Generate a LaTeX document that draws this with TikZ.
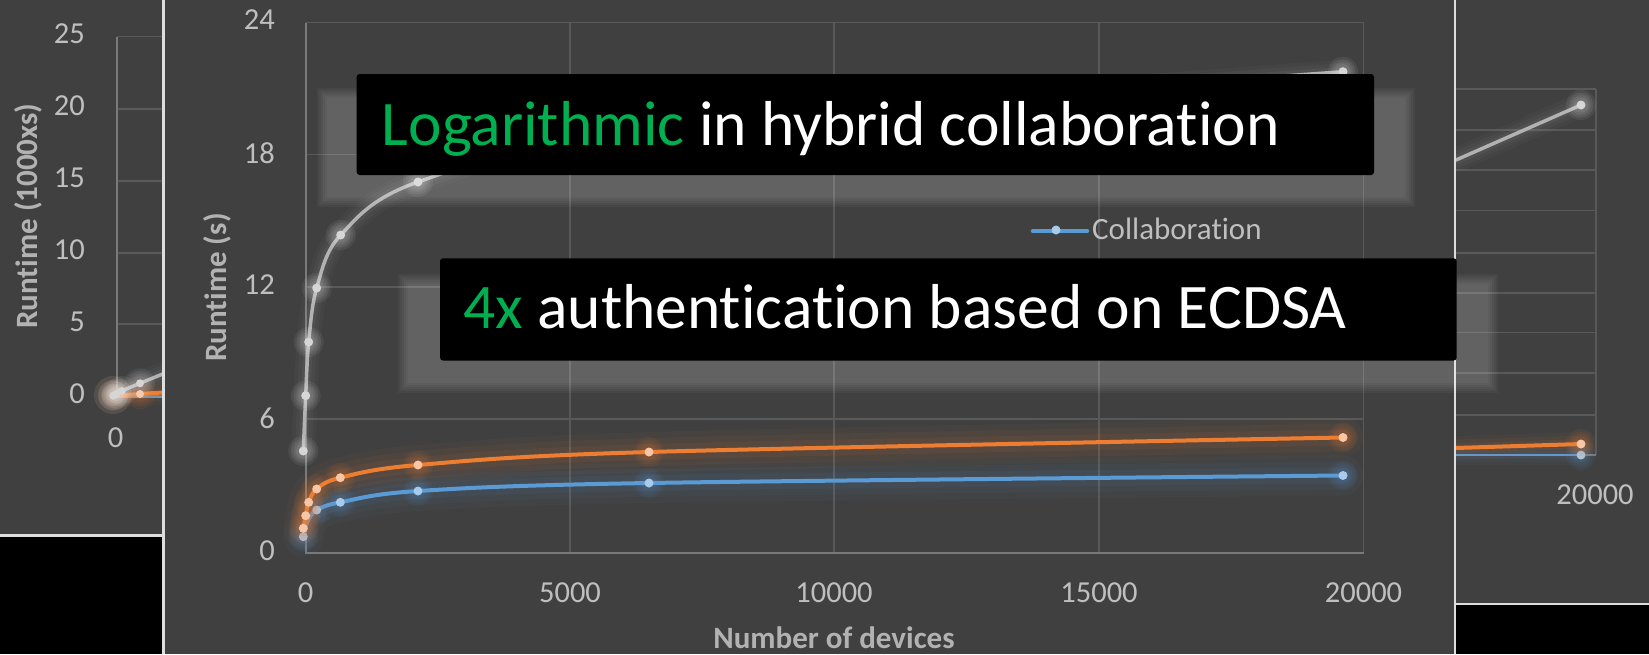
\documentclass[tikz,border=0pt]{standalone}
\usepackage{fontspec}
\setmainfont{Carlito}[Ligatures=NoCommon]
\definecolor{bg}{RGB}{64,64,64}
\definecolor{grid}{RGB}{89,89,89}
\definecolor{axisc}{RGB}{122,122,122}
\definecolor{ticktxt}{RGB}{191,191,191}
\definecolor{titletxt}{RGB}{178,178,178}
\definecolor{panelline}{RGB}{222,222,222}
\definecolor{sorange}{RGB}{237,125,49}
\definecolor{sblue}{RGB}{91,155,213}
\definecolor{sgray}{RGB}{178,178,178}
\definecolor{morange}{RGB}{248,198,165}
\definecolor{mblue}{RGB}{168,203,236}
\definecolor{mgray}{RGB}{214,214,214}
\definecolor{hlgreen}{RGB}{0,176,80}

% a series line with a soft glow around it
\newcommand\glowline[5]{% #1 colour, #2 line width, #3 tension, #4 glow scale, #5 points
  \foreach \w/\o in {40/0.04, 28/0.05, 16/0.07}
    \draw[#1, line width=#4*\w pt, opacity=\o, line cap=round, line join=round]
      plot[smooth, tension=#3] coordinates {#5};
  \draw[#1, line width=#2, line cap=round, line join=round]
    plot[smooth, tension=#3] coordinates {#5};
}
% round data markers with a soft halo; #4 is a list of x/y pairs
\newcommand\glowmarks[4]{% #1 halo colour, #2 fill colour, #3 marker radius, #4 points
  \foreach \px/\py in {#4} {
    \foreach \r in {15,12.5,10,7.5}
      \fill[#1, opacity=0.065] (\px,\py) circle (\r pt);
  }
  \foreach \px/\py in {#4}
    \fill[#2] (\px,\py) circle (#3);
}
% a soft-edged translucent panel
\newcommand\softpanel[4]{% corners x1,y1,x2,y2
  \foreach \d in {-5,-3,-1,1,3,5}
    \fill[white, opacity=0.035] ({#1+\d},{#2+\d}) rectangle ({#3-\d},{#4-\d});
}

\begin{document}
\begin{tikzpicture}[x=1pt, y=-1pt,
  gridline/.style={draw=grid, line width=1.5pt},
  axisline/.style={draw=axisc, line width=2pt},
  ticklbl/.style={text=ticktxt, font=\fontsize{30.5}{36}\selectfont, inner sep=0pt},
  axtitle/.style={text=titletxt, font=\bfseries\fontsize{31}{36}\selectfont, inner sep=0pt},
  panelborder/.style={draw=panelline, line width=2.5pt},
  callout/.style={fill=black, rounded corners=3pt},
  calltext/.style={text=white, font=\fontsize{63.5}{70}\selectfont, inner sep=0pt, anchor=base west},
  legtext/.style={text=ticktxt, font=\fontsize{31}{36}\selectfont, inner sep=0pt, anchor=base west},
]
\useasboundingbox (0,0) rectangle (1649,654);
\fill[bg] (0,0) rectangle (1649,654);

% ---------- left chart (partly hidden) ----------
\begin{scope}
  \clip (0,0) rectangle (162,536);
  \foreach \y in {36.7,109,181,253,324}
    \draw[gridline] (116.7,\y) -- (170,\y);
  \draw[axisline] (116.7,36.7) -- (116.7,396) -- (170,396);
  \foreach \r in {19,15,11,7}
    \fill[morange, opacity=0.12] (113,395) circle (\r pt);
  \draw[sblue, line width=2pt] (113,396.8) -- (170,396.8);
  \glowline{sorange}{4pt}{0.5}{0.6}{(113,396) (140,394) (170,392)}
  \glowmarks{sorange}{morange}{4pt}{140/394}
  \glowline{sgray}{3.5pt}{0.5}{0.6}{(113.3,395.7) (121.7,391) (140,383.3) (170,371)}
  \glowmarks{white}{mgray}{4pt}{113.3/395.7, 116.5/394, 121.7/391, 140/383.3}
\end{scope}
\foreach \v/\y in {25/34,20/106,15/178,10/250,5/322,0/394}
  \node[ticklbl, anchor=east] (ly\v) at (85,\y) {\v};
\node[ticklbl] (lx0) at (115.7,437.5) {0};
\node[axtitle, rotate=90] (lytitle) at (28,216) {Runtime (1000xs)};

% ---------- right chart (partly hidden) ----------
\begin{scope}
  \clip (1456,0) rectangle (1649,604);
  \foreach \y in {89,130,170,210.7,253,293,332.5,373,415}
    \draw[gridline] (1440,\y) -- (1596,\y);
  \draw[gridline] (1596,89) -- (1596,455);
  \draw[axisline] (1440,455) -- (1596,455);
  \glowline{sblue}{2.5pt}{0.5}{0.5}{(1440,455) (1581,455)}
  \glowmarks{sblue}{mblue}{4.5pt}{1581/455}
  \glowline{sorange}{4pt}{0.5}{0.6}{(1440,448.5) (1581,444)}
  \glowmarks{sorange}{morange}{4.5pt}{1581/444}
  \glowline{sgray}{3.5pt}{0.5}{0.6}{(1456,160) (1581,105)}
  \glowmarks{white}{mgray}{4.5pt}{1581/105}
\end{scope}
\node[ticklbl] (rx20000) at (1595,495) {20000};

% ---------- main chart ----------
\foreach \y in {22.7,154.7,287,419}
  \draw[gridline] (305.7,\y) -- (1363.5,\y);
\foreach \x in {570,834,1099,1363.5}
  \draw[gridline] (\x,22.7) -- (\x,552.5);
\draw[axisline] (305.7,22.7) -- (305.7,552.5) -- (1363.5,552.5);

\foreach \v/\y in {24/20,18/153,12/285,6/418,0/551}
  \node[ticklbl, anchor=east] (my\v) at (275,\y) {\v};
\foreach \v/\x in {0/305.7,5000/570,10000/834,15000/1099,20000/1363.5}
  \node[ticklbl] (mx\v) at (\x,593) {\v};
\node[axtitle, rotate=90] (mytitle) at (217,287.5) {Runtime (s)};
\node[axtitle, anchor=base] (mxtitle) at (834,648) {Number of devices};

% series: blue, orange, gray
\glowline{sblue}{4pt}{0.55}{1}{(303.3,536.7) (305.7,527) (308.7,519) (316.7,510) (340.3,502.3) (418,491) (649,483) (1343,475.5)}
\glowmarks{sblue}{mblue}{4.5pt}{303.3/536.7, 316.7/510, 340.3/502.3, 418/491, 649/483, 1343/475.5}
\glowline{sorange}{4pt}{0.55}{1}{(303.3,528.3) (305.7,515.7) (308.7,502.3) (316.7,489) (340.3,477.7) (418,465) (649,452) (1343,437.5)}
\glowmarks{sorange}{morange}{4.5pt}{303.3/528.3, 305.7/515.7, 308.7/502.3, 316.7/489, 340.3/477.7, 418/465, 649/452, 1343/437.5}
\glowline{sgray}{3.5pt}{0.55}{0.6}{(303.3,451) (305.7,395.7) (308.7,342) (316.7,288) (340.7,235) (418,182) (650,128) (1343,71.7)}
\glowmarks{white}{mgray}{4.5pt}{303.3/451, 305.7/395.7, 308.7/342, 316.7/288, 340.7/235, 418/182, 650/128, 1343/71.7}

% legend entry
\coordinate (legA) at (1033,231);
\coordinate (legB) at (1087,231);
\draw[sblue, line width=4.5pt, line cap=round] (legA) -- (legB);
\fill[mblue] (1056,230) circle (4.5pt);
\node[legtext] (legtxt) at (1092,239.5) {Collaboration};

% ---------- slide frames ----------
\fill[black] (0,536) rectangle (163.3,654);
\fill[black] (1455,604) rectangle (1649,654);
\draw[panelborder] (163.3,0) -- (163.3,654);
\draw[panelborder] (0,535.5) -- (163.3,535.5);
\draw[panelborder] (1455,0) -- (1455,654);
\draw[panelborder] (1455,604) -- (1649,604);

% ---------- callouts ----------
\softpanel{321.7}{93}{1410}{202}
\softpanel{403}{279}{1493}{387.5}
\path[callout] (356.7,74) rectangle (1374,175);
\node[calltext] (call1) at (381.7,145) {\textcolor{hlgreen}{Logarithmic} in hybrid collaboration};
\path[callout] (440,258.3) rectangle (1456.7,360.5);
\node[calltext] (call2) at (463,328) {\textcolor{hlgreen}{4x} authentication based on ECDSA};
\end{tikzpicture}
\end{document}
